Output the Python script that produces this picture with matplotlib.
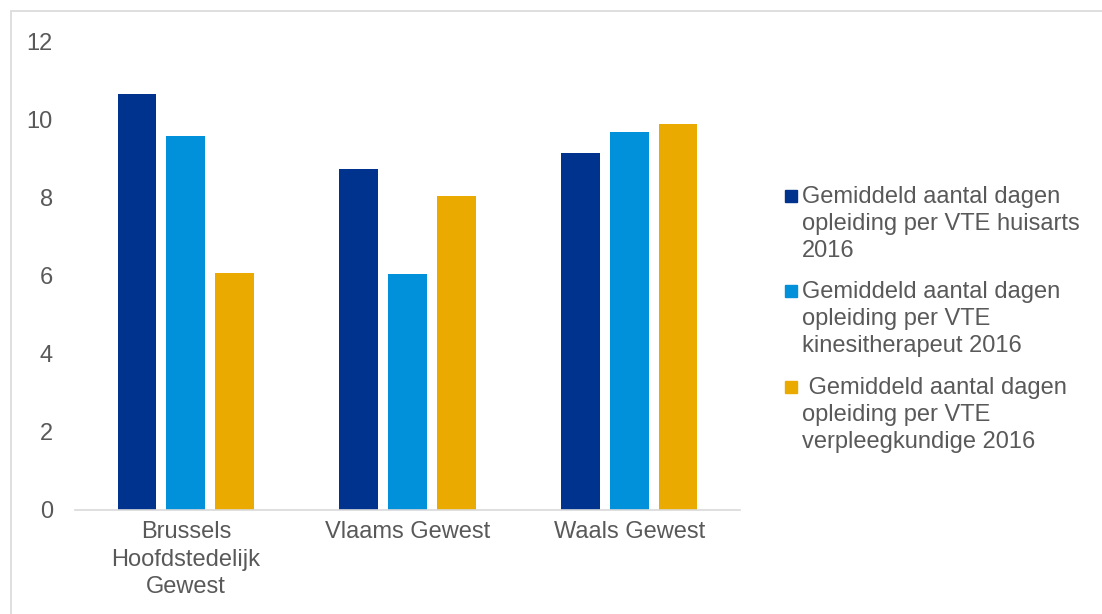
import numpy as np
import matplotlib.pyplot as plt
from matplotlib.patches import Rectangle

plt.rcParams['font.family'] = ['Liberation Sans', 'DejaVu Sans']

# data
regions = ['Brussels\nHoofdstedelijk\nGewest', 'Vlaams Gewest', 'Waals Gewest']
huisarts = [10.67, 8.74, 9.15]
kine = [9.60, 6.05, 9.68]
verpleeg = [6.07, 8.04, 9.91]
labels = ['Gemiddeld aantal dagen\nopleiding per VTE huisarts\n2016',
          'Gemiddeld aantal dagen\nopleiding per VTE\nkinesitherapeut 2016',
          ' Gemiddeld aantal dagen\nopleiding per VTE\nverpleegkundige 2016']
colors = ['#00338D', '#0091DA', '#EAAA00']
txt = '#595959'

W, H = 1102, 614
fig = plt.figure(figsize=(W / 100, H / 100), dpi=100)
ax = fig.add_axes([75 / W, 1 - 510 / H, 665 / W, 468 / H])

x = np.arange(len(regions))
w = 0.175
step = 0.22
for i, (vals, c) in enumerate(zip([huisarts, kine, verpleeg], colors)):
    ax.bar(x + (i - 1) * step, vals, w, color=c)

ax.set_xlim(-0.5, 2.5)
ax.set_ylim(0, 12)
ax.set_yticks(range(0, 13, 2))
ax.set_xticks(x)
ax.set_xticklabels(regions, fontsize=17, color=txt, linespacing=1.33)
ax.tick_params(axis='y', labelsize=17, labelcolor=txt, length=0, pad=16)
ax.tick_params(axis='x', length=0, pad=8)
for s in ['top', 'right', 'left']:
    ax.spines[s].set_visible(False)
ax.spines['bottom'].set_color('#d9d9d9')
ax.spines['bottom'].set_linewidth(1.2)

# legend: square next to the first line of each entry
leg_top = [186, 281, 377]
for c, lab, yt in zip(colors, labels, leg_top):
    fig.patches.append(Rectangle((785 / W, 1 - (yt + 16) / H), 12 / W, 12 / H,
                                 transform=fig.transFigure, color=c))
    fig.text(802 / W, 1 - yt / H, lab, fontsize=17, color=txt, va='top',
             ha='left', linespacing=1.3)

fig.patches.append(Rectangle((0.01, -0.05), 1.2, 1.032, transform=fig.transFigure,
                             fill=False, edgecolor='#d9d9d9', linewidth=1.2))

fig.savefig('out.png', dpi=100)
